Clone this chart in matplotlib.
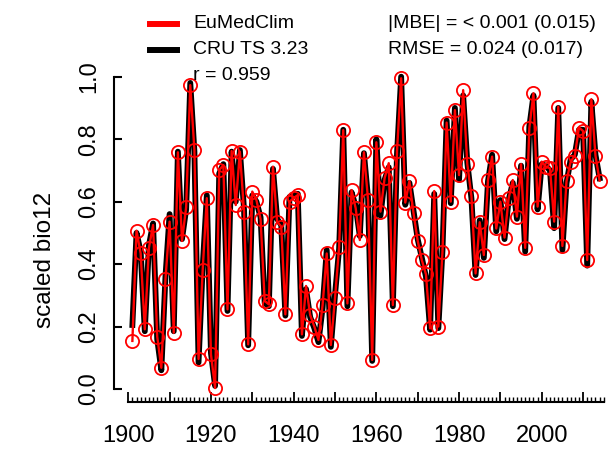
import numpy as np
import matplotlib.pyplot as plt
from matplotlib.lines import Line2D

plt.rcParams['font.family'] = ['Liberation Sans', 'DejaVu Sans']

# years 1901-2014
years = np.arange(1901, 2015)

# scaled bio12, EuMedClim (red circles)
eumedclim = [
    0.154, 0.507, 0.434, 0.191, 0.452, 0.525, 0.168, 0.068, 0.351, 0.536,
    0.180, 0.758, 0.474, 0.582, 0.973, 0.765, 0.096, 0.381, 0.611, 0.111,
    0.003, 0.701, 0.717, 0.255, 0.762, 0.589, 0.760, 0.568, 0.143, 0.632,
    0.605, 0.544, 0.282, 0.271, 0.712, 0.536, 0.520, 0.239, 0.600, 0.611,
    0.621, 0.175, 0.330, 0.237, 0.200, 0.157, 0.269, 0.434, 0.141, 0.290,
    0.456, 0.829, 0.274, 0.637, 0.579, 0.477, 0.758, 0.605, 0.093, 0.790,
    0.568, 0.675, 0.723, 0.269, 0.762, 0.995, 0.597, 0.666, 0.562, 0.475,
    0.413, 0.367, 0.194, 0.634, 0.200, 0.440, 0.853, 0.600, 0.893, 0.685,
    0.957, 0.720, 0.618, 0.370, 0.534, 0.429, 0.669, 0.744, 0.514, 0.600,
    0.485, 0.611, 0.669, 0.552, 0.720, 0.452, 0.835, 0.947, 0.584, 0.728,
    0.712, 0.707, 0.536, 0.904, 0.458, 0.666, 0.728, 0.747, 0.837, 0.826,
    0.413, 0.928, 0.747, 0.667,
]

# scaled bio12, CRU TS 3.23 (black line)
cru = [
    0.205, 0.500, 0.440, 0.185, 0.460, 0.530, 0.160, 0.060, 0.360, 0.560,
    0.185, 0.760, 0.480, 0.575, 0.980, 0.760, 0.085, 0.390, 0.620, 0.115,
    0.010, 0.690, 0.720, 0.250, 0.760, 0.600, 0.765, 0.575, 0.140, 0.620,
    0.600, 0.550, 0.275, 0.265, 0.705, 0.545, 0.525, 0.235, 0.615, 0.620,
    0.625, 0.170, 0.320, 0.230, 0.195, 0.150, 0.260, 0.445, 0.135, 0.300,
    0.450, 0.830, 0.265, 0.630, 0.585, 0.490, 0.755, 0.610, 0.090, 0.800,
    0.555, 0.670, 0.710, 0.265, 0.755, 1.000, 0.590, 0.660, 0.570, 0.480,
    0.420, 0.360, 0.190, 0.625, 0.195, 0.445, 0.860, 0.595, 0.900, 0.670,
    0.940, 0.725, 0.610, 0.365, 0.540, 0.420, 0.665, 0.750, 0.505, 0.605,
    0.480, 0.605, 0.660, 0.545, 0.715, 0.440, 0.840, 0.940, 0.575, 0.720,
    0.715, 0.700, 0.515, 0.900, 0.445, 0.660, 0.735, 0.750, 0.830, 0.830,
    0.395, 0.920, 0.750, 0.675,
]

W, H = 613, 451
fig = plt.figure(figsize=(W / 100, H / 100), dpi=100)

# plot region (R style, 4% padding, no box)
ax = fig.add_axes([113.7 / W, 1 - 401.5 / H, 504.6 / W, 337.3 / H])
ax.set_xlim(1896.48, 2018.52)
ax.set_ylim(-0.04, 1.04)

ax.plot(years, cru, color='black', lw=4.2, solid_joinstyle='round', zorder=2)
ax.plot(years, eumedclim, color='red', lw=1.7, marker='o', ms=9.5,
        mfc='none', mec='red', mew=1.3, zorder=3)

for s in ['top', 'right']:
    ax.spines[s].set_visible(False)
ax.spines['left'].set_bounds(0, 1)
ax.spines['bottom'].set_bounds(1900, 2015)
ax.spines['left'].set_linewidth(1.5)
ax.spines['bottom'].set_linewidth(1.5)

ax.set_xticks(np.arange(1900, 2011, 10))
ax.set_xticklabels([str(y) if y % 20 == 0 else '' for y in range(1900, 2011, 10)])
ax.set_xticks(np.arange(1900, 2016, 1), minor=True)
ax.set_yticks([0, 0.2, 0.4, 0.6, 0.8, 1.0])
ax.set_yticklabels(['0.0', '0.2', '0.4', '0.6', '0.8', '1.0'], rotation=90, va='center')

ax.tick_params(axis='x', which='major', direction='in', length=7, width=1.3,
               labelsize=17, pad=17)
ax.tick_params(axis='x', which='minor', direction='in', length=3.5, width=1.0)
ax.tick_params(axis='y', direction='in', length=6, width=1.5, labelsize=17, pad=10)

fig.text(45 / W, 1 - 260 / H, 'scaled bio12', rotation=90, ha='center',
         va='center', fontsize=17.5)

# legend
def fx(x):
    return x / W

def fy(y):
    return 1 - y / H

fig.add_artist(Line2D([fx(150), fx(177)], [fy(24), fy(24)], color='red', lw=4.3))
fig.add_artist(Line2D([fx(150), fx(177)], [fy(50), fy(50)], color='black', lw=4.3))
fig.text(fx(193), fy(24), 'EuMedClim', fontsize=14, va='center')
fig.text(fx(193), fy(50), 'CRU TS 3.23', fontsize=14, va='center')
fig.text(fx(193), fy(76), 'r = 0.959', fontsize=14, va='center')
fig.text(fx(388), fy(24), '|MBE| = < 0.001 (0.015)', fontsize=14, va='center')
fig.text(fx(388), fy(50), 'RMSE = 0.024 (0.017)', fontsize=14, va='center')

fig.savefig('out.png', dpi=100)
